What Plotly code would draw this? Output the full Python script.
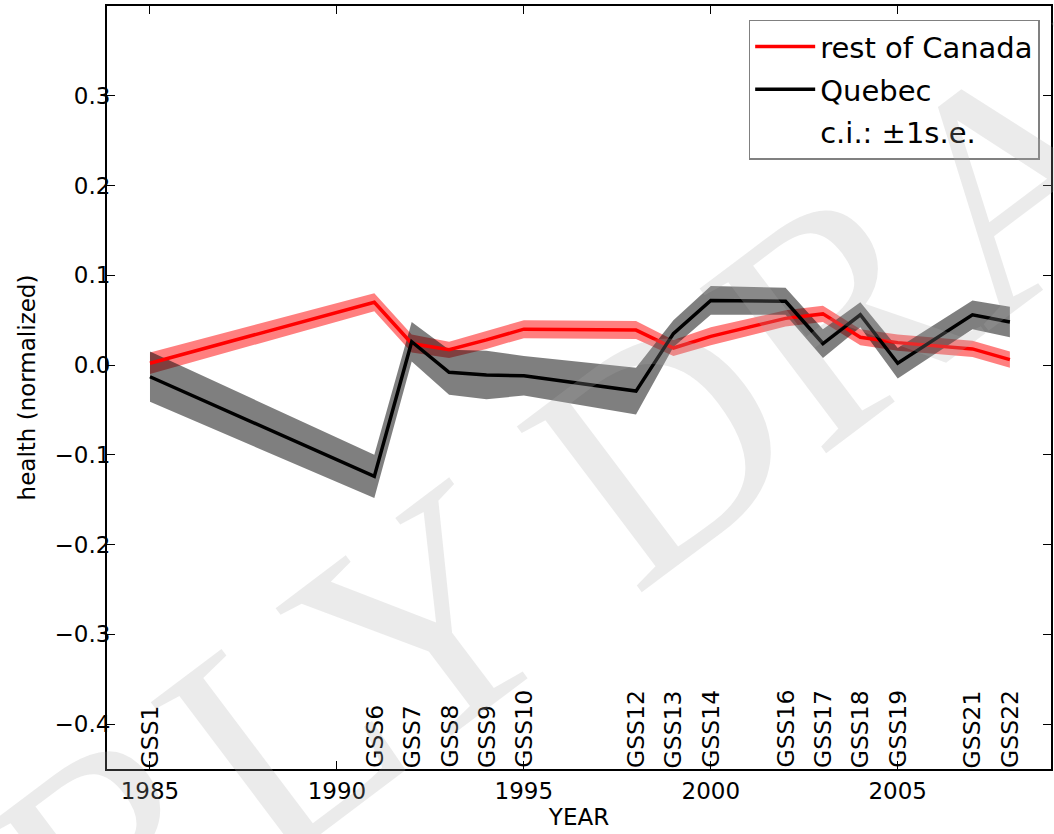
import numpy as np
import plotly.graph_objects as go

# ---- data ----
years = [1985, 1991, 1992, 1993, 1994, 1995, 1998, 1999, 2000, 2002, 2003, 2004, 2005, 2007, 2008]
gss_labels = ["GSS1", "GSS6", "GSS7", "GSS8", "GSS9", "GSS10", "GSS12", "GSS13", "GSS14",
              "GSS16", "GSS17", "GSS18", "GSS19", "GSS21", "GSS22"]
canada_mean = [0.002, 0.070, 0.024, 0.017, 0.028, 0.040, 0.039, 0.019, 0.032, 0.052, 0.057,
               0.031, 0.025, 0.018, 0.006]
canada_se = [0.012, 0.010, 0.010, 0.009, 0.010, 0.010, 0.010, 0.009, 0.010, 0.009, 0.009,
             0.009, 0.009, 0.009, 0.009]
quebec_mean = [-0.013, -0.124, 0.026, -0.008, -0.011, -0.012, -0.029, 0.035, 0.072, 0.071,
               0.024, 0.056, 0.002, 0.056, 0.048]
quebec_se = [0.028, 0.024, 0.022, 0.025, 0.027, 0.022, 0.026, 0.015, 0.016, 0.015, 0.016,
             0.014, 0.017, 0.016, 0.017]
y_ticks = [-0.4, -0.3, -0.2, -0.1, 0.0, 0.1, 0.2, 0.3]
x_ticks = [1985, 1990, 1995, 2000, 2005]

FONT = "DejaVu Sans"

def band(x, m, s, color):
    m = np.array(m); s = np.array(s)
    up = m + s; lo = m - s
    return go.Scatter(x=list(x) + list(x)[::-1], y=list(up) + list(lo)[::-1],
                      fill="toself", fillcolor=color, line=dict(width=0),
                      mode="lines", showlegend=False, hoverinfo="skip")

fig = go.Figure()
fig.add_trace(band(years, canada_mean, canada_se, "rgba(255,0,0,0.5)"))
fig.add_trace(band(years, quebec_mean, quebec_se, "rgba(0,0,0,0.5)"))
fig.add_trace(go.Scatter(x=years, y=canada_mean, mode="lines", name="rest of Canada",
                         line=dict(color="#ff0000", width=3.5), legendgroup="a"))
fig.add_trace(go.Scatter(x=years, y=quebec_mean, mode="lines", name="Quebec",
                         line=dict(color="#000000", width=3.5), legendgroup="b"))
fig.add_trace(go.Scatter(x=[None], y=[None], mode="lines", name="c.i.: ±1s.e.",
                         line=dict(color="rgba(0,0,0,0)", width=0), legendgroup="c"))

# GSS labels
for yr, lab in zip(years, gss_labels):
    fig.add_annotation(x=yr, y=-0.45, xref="x", yref="y", text=lab, textangle=-90,
                       showarrow=False, xanchor="center", yanchor="bottom",
                       font=dict(family=FONT, size=23.5, color="black"), borderpad=0)

# watermark
fig.add_annotation(x=(550 - 107) / 946, y=1 - (528 - 6) / 763, xref="paper", yref="paper",
                   text="EARLY DRAFT", textangle=-37, showarrow=False,
                   xanchor="center", yanchor="middle",
                   font=dict(family="Liberation Serif", size=317, color="rgba(170,170,170,0.24)"))

axis_common = dict(showline=True, linecolor="black", linewidth=2, mirror="ticks",
                   ticks="inside", ticklen=8, tickwidth=1, tickcolor="black",
                   showgrid=False, zeroline=False,
                   tickfont=dict(family=FONT, size=23, color="black"))

fig.update_xaxes(range=[1983.85, 2009.1], tickvals=x_ticks, ticktext=[str(v) for v in x_ticks],
                 title=dict(text="YEAR", font=dict(family=FONT, size=23, color="black"), standoff=4),
                 **axis_common)
fig.update_yaxes(range=[-0.45, 0.4], tickvals=y_ticks,
                 ticktext=[("−" if v < 0 else "") + f"{abs(v):.1f}" for v in y_ticks],
                 ticklabelstandoff=-10,
                 title=dict(text="health (normalized)", font=dict(family=FONT, size=23, color="black"), standoff=12),
                 **axis_common)

fig.update_layout(
    width=1054, height=834,
    margin=dict(l=107, r=1, t=6, b=65),
    plot_bgcolor="white", paper_bgcolor="white",
    font=dict(family=FONT, size=23, color="black"),
    legend=dict(x=0.988, y=0.982, xanchor="right", yanchor="top",
                bgcolor="white", bordercolor="#808080", borderwidth=1.5,
                font=dict(family=FONT, size=29, color="black"),
                tracegroupgap=2, itemwidth=60),
)

fig.write_html("out.html", config={"displayModeBar": False},
               post_script="document.body.style.margin='0px';")
